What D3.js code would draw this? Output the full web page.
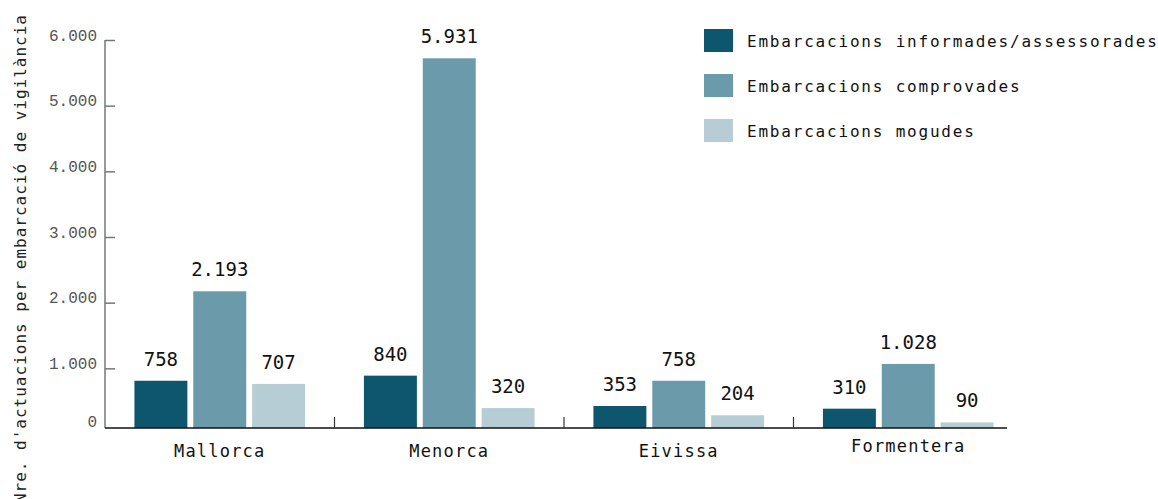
<!DOCTYPE html>
<html>
<head>
<meta charset="utf-8">
<script src="https://cdn.jsdelivr.net/npm/d3@7"></script>
<style>
  body { margin: 0; background: #fff; }
  text { font-family: "DejaVu Sans Mono", monospace; }
</style>
</head>
<body>
<div class="container"></div>
<script>
// data
var islands = ['Mallorca', 'Menorca', 'Eivissa', 'Formentera'];
var seriesNames = ['Embarcacions informades/assessorades', 'Embarcacions comprovades', 'Embarcacions mogudes'];
var informades = [758, 840, 353, 310];
var comprovades = [2193, 5931, 758, 1028];
var mogudes = [707, 320, 204, 90];
var yTicks = [0, 1000, 2000, 3000, 4000, 5000, 6000];

const WIDTH = 1158;
const HEIGHT = 499;
const COLORS = ['#0d566e', '#6b9aaa', '#b7cdd5'];

var series = [informades, comprovades, mogudes];

var locale = d3.formatLocale({decimal: ',', thousands: '.', grouping: [3], currency: ['', '']});
var fmt = locale.format(',');

var svg = d3.select('.container').append('svg')
    .attr('width', WIDTH)
    .attr('height', HEIGHT);

// x scales
var xScale = d3.scaleBand()
    .domain(islands)
    .range([105, 1023])
    .paddingInner(0)
    .paddingOuter(0);

var xSub = d3.scaleBand()
    .domain(d3.range(series.length))
    .range([0, xScale.bandwidth()])
    .paddingInner(0.1)
    .paddingOuter(0.5);

// bars and the axis don't quite share a scale in the original
var yBar = d3.scaleLinear().domain([0, 6000]).range([428, 54]);
var yAxisScale = d3.scaleLinear().domain([0, 6000]).range([434, 40]);

// y axis
var yAxis = d3.axisLeft(yAxisScale)
    .tickValues(yTicks)
    .tickFormat(fmt)
    .tickSizeInner(-10)
    .tickSizeOuter(0)
    .tickPadding(8);

var gy = svg.append('g')
    .attr('transform', 'translate(105,0)')
    .call(yAxis);
gy.select('.domain').remove();
gy.selectAll('.tick line').attr('stroke', '#777').attr('stroke-width', 1.5);
gy.selectAll('.tick text')
    .attr('fill', '#555')
    .attr('y', -5)
    .style('font-family', '"Liberation Mono", monospace')
    .style('font-size', '16px');
// zero label sits on the baseline
gy.selectAll('.tick').filter(function(d){ return d === 0; })
    .attr('transform', 'translate(0,427)')
    .select('line').remove();

gy.append('line')
    .attr('x1', 0).attr('x2', 0)
    .attr('y1', yBar(0)).attr('y2', yAxisScale(6000))
    .attr('stroke', '#777')
    .attr('stroke-width', 1.5);

// y title
svg.append('text')
    .attr('transform', 'translate(26,14) rotate(-90)')
    .attr('text-anchor', 'end')
    .attr('fill', '#222')
    .style('font-size', '16px')
    .style('letter-spacing', '1px')
    .text("Nre. d'actuacions per embarcació de vigilància");

// bars
var groups = svg.selectAll('g.island').data(islands)
    .enter().append('g')
    .attr('class', 'island')
    .attr('transform', function(d){ return 'translate(' + xScale(d) + ',0)'; });

groups.selectAll('rect')
    .data(function(d, i){ return series.map(function(s, j){ return {j: j, v: s[i]}; }); })
    .enter().append('rect')
    .attr('x', function(d){ return xSub(d.j); })
    .attr('y', function(d){ return yBar(d.v); })
    .attr('width', xSub.bandwidth())
    .attr('height', function(d){ return yBar(0) - yBar(d.v); })
    .attr('fill', function(d){ return COLORS[d.j]; });

groups.selectAll('text.val')
    .data(function(d, i){ return series.map(function(s, j){ return {j: j, v: s[i]}; }); })
    .enter().append('text')
    .attr('class', 'val')
    .attr('x', function(d){ return xSub(d.j) + xSub.bandwidth() / 2; })
    .attr('y', function(d){ return yBar(d.v) - 15; })
    .attr('text-anchor', 'middle')
    .attr('fill', '#111')
    .style('font-size', '19px')
    .text(function(d){ return fmt(d.v); });

// x axis
svg.append('line')
    .attr('x1', 105).attr('x2', 1007)
    .attr('y1', yBar(0)).attr('y2', yBar(0))
    .attr('stroke', '#111')
    .attr('stroke-width', 1.5);

svg.selectAll('line.sep').data(islands.slice(1))
    .enter().append('line')
    .attr('class', 'sep')
    .attr('x1', function(d){ return xScale(d); })
    .attr('x2', function(d){ return xScale(d); })
    .attr('y1', yBar(0)).attr('y2', yBar(0) - 11)
    .attr('stroke', '#333')
    .attr('stroke-width', 1.2);

svg.selectAll('text.cat').data(islands)
    .enter().append('text')
    .attr('class', 'cat')
    .attr('x', function(d){ return xScale(d) + xScale.bandwidth() / 2; })
    .attr('y', function(d){ return d === 'Formentera' ? 452 : 457; })
    .attr('text-anchor', 'middle')
    .attr('fill', '#111')
    .style('font-size', '17px')
    .style('letter-spacing', '1.2px')
    .text(function(d){ return d; });

// legend
var legend = svg.selectAll('g.legend').data(seriesNames)
    .enter().append('g')
    .attr('class', 'legend')
    .attr('transform', function(d, i){ return 'translate(704,' + (29 + i * 45) + ')'; });

legend.append('rect')
    .attr('width', 29)
    .attr('height', 23)
    .attr('fill', function(d, i){ return COLORS[i]; });

legend.append('text')
    .attr('x', 43)
    .attr('y', 18)
    .attr('fill', '#111')
    .style('font-size', '16px')
    .style('letter-spacing', '1.8px')
    .text(function(d){ return d; });
</script>
</body>
</html>
